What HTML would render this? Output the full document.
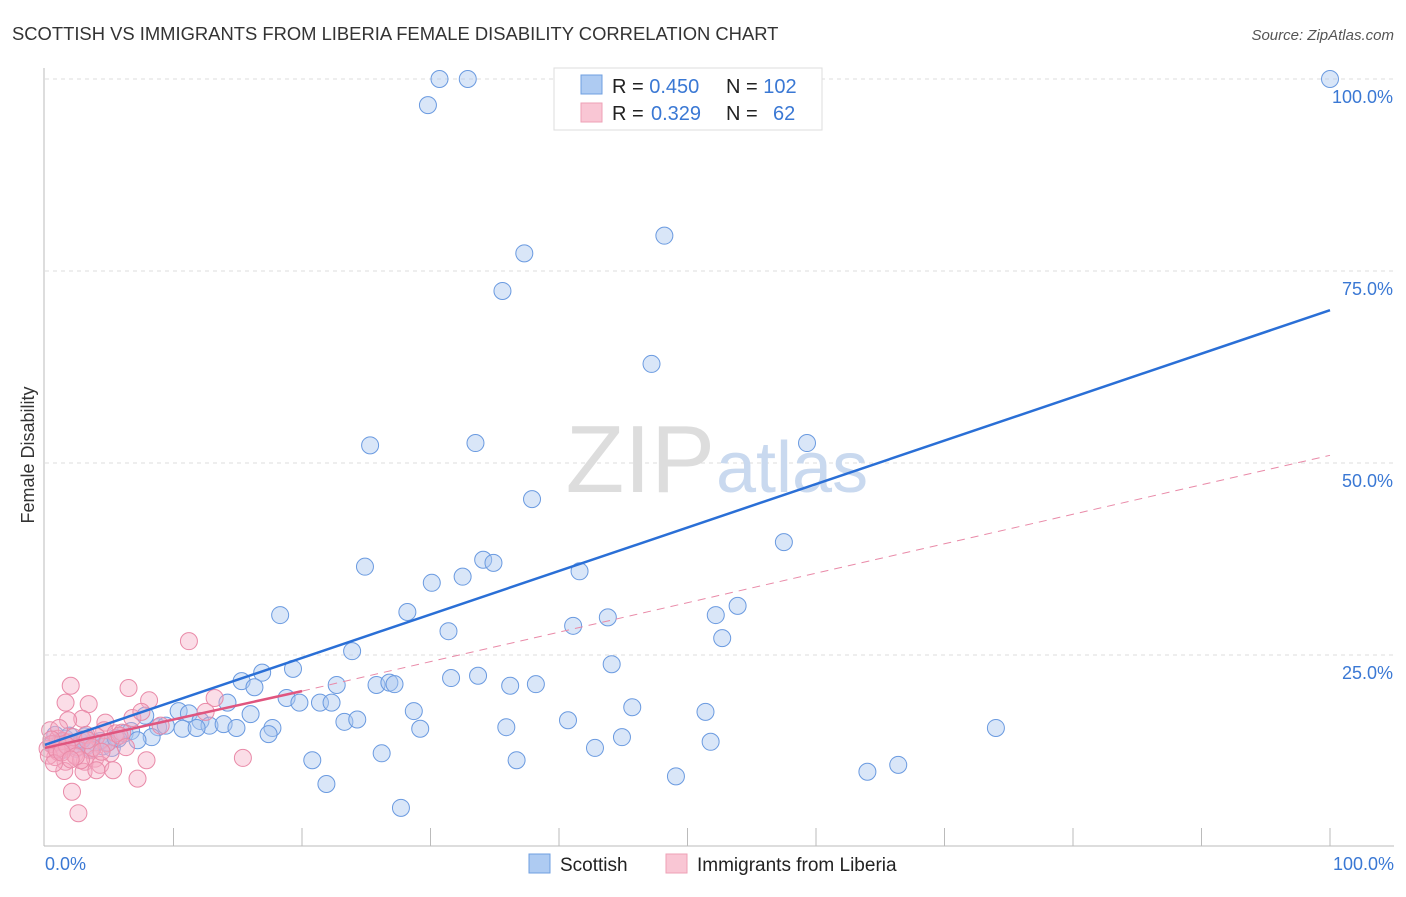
<!DOCTYPE html>
<html><head><meta charset="utf-8"><style>
body{margin:0;background:#fff;font-family:"Liberation Sans",sans-serif}
svg text{font-family:"Liberation Sans",sans-serif}
</style></head><body>
<svg id="c" width="1406" height="892">
<text x="12" y="40" font-size="18.4" fill="#333">SCOTTISH VS IMMIGRANTS FROM LIBERIA FEMALE DISABILITY CORRELATION CHART</text>
<text x="1394" y="40" font-size="15" fill="#555" font-style="italic" text-anchor="end">Source: ZipAtlas.com</text>
<text x="34" y="455" font-size="18" fill="#333" text-anchor="middle" transform="rotate(-90 34 455)">Female Disability</text>
<g id="grid"></g>
<text x="715" y="492" font-size="96" fill="#ddd" text-anchor="end" font-family="Liberation Serif">ZIP</text>
<text x="716" y="492" font-size="72" fill="#c9d9ef">atlas</text>
<g id="pts"></g>
<g id="lines"></g>
<line x1="44" y1="68" x2="44" y2="846" stroke="#bbb"/>
<line x1="44" y1="846" x2="1394" y2="846" stroke="#bbb"/>
<g id="ticks"></g>
<text x="45" y="870" font-size="18" fill="#3a78d4">0.0%</text>
<text x="1394" y="870" font-size="18" fill="#3a78d4" text-anchor="end">100.0%</text>
<g>
<rect x="554" y="68" width="268" height="62" fill="#fff" stroke="#ddd"/>
<rect x="581" y="75" width="21" height="19" fill="#aecbf2" stroke="#6f9fe0"/>
<rect x="581" y="103" width="21" height="19" fill="#f9c6d4" stroke="#eea0b6"/>
<text x="612" y="93" font-size="20" fill="#222">R = <tspan fill="#3a78d4">0.450</tspan></text>
<text x="726" y="93" font-size="20" fill="#222">N = <tspan fill="#3a78d4">102</tspan></text>
<text x="612" y="120" font-size="20" fill="#222">R = <tspan fill="#3a78d4" x="651">0.329</tspan></text>
<text x="726" y="120" font-size="20" fill="#222">N = <tspan fill="#3a78d4" x="773">62</tspan></text>
</g>
<g>
<rect x="529" y="854" width="21" height="19" fill="#aecbf2" stroke="#6f9fe0"/>
<text x="560" y="871" font-size="19" fill="#222">Scottish</text>
<rect x="666" y="854" width="21" height="19" fill="#f9c6d4" stroke="#eea0b6"/>
<text x="697" y="871" font-size="19" fill="#222">Immigrants from Liberia</text>
</g>
</svg>
<script>
const yTicks=[25,50,75,100];
const yTickLabels=["25.0%","50.0%","75.0%","100.0%"];
const xTicks=[10,20,30,40,50,60,70,80,90,100];
const scotX=[30.7,32.9,29.8,100,48.2,37.3,35.6,47.2,25.3,33.5,59.3,37.9,57.5,24.9,34.1,34.9,41.6,30.1,32.5,28.2,18.3,53.9,52.2,43.8,41.1,31.4,52.7,23.9,44.1,19.3,16.9,15.3,16.3,31.6,33.7,22.7,25.8,26.8,27.2,36.2,38.2,18.8,19.8,21.4,22.3,14.2,10.4,11.2,7.8,16.0,28.7,45.7,51.4,12.1,12.8,13.9,8.8,9.4,10.7,11.8,14.9,23.3,24.3,29.2,35.9,40.7,74.0,6.2,6.7,17.7,17.4,8.3,7.2,44.9,51.8,42.8,26.2,20.8,36.7,49.1,64.0,66.4,21.9,27.7,0.8,1.2,1.6,2.1,2.7,3.3,3.9,4.5,5.2,5.7,1.3,1.9,3.1,4.3,0.6,2.4,3.6,4.9,5.5,2.9];
const scotY=[100,100,96.6,100,79.6,77.3,72.4,62.9,52.3,52.6,52.6,45.3,39.7,36.5,37.4,37.0,35.9,34.4,35.2,30.6,30.2,31.4,30.2,29.9,28.8,28.1,27.2,25.5,23.8,23.2,22.7,21.6,20.8,22.0,22.3,21.1,21.1,21.4,21.2,21.0,21.2,19.4,18.8,18.8,18.8,18.8,17.7,17.4,17.1,17.3,17.7,18.2,17.6,16.4,15.8,16.0,15.6,15.8,15.4,15.5,15.5,16.3,16.6,15.4,15.6,16.5,15.5,14.8,15.1,15.5,14.7,14.3,13.9,14.3,13.7,12.9,12.2,11.3,11.3,9.2,9.8,10.7,8.2,5.1,14.6,13.7,14.1,13.2,13.8,13.2,13.6,13.1,12.9,14.1,12.6,14.5,14.4,13.8,13.4,12.8,12.7,13.6,14.2,14.0];
const libX=[11.2,2.0,6.5,3.4,1.6,8.1,13.2,2.9,1.8,4.7,6.8,7.5,4.6,0.4,4.0,5.5,1.2,2.3,3.5,0.8,1.6,3.1,3.9,5.1,0.2,1.0,1.9,4.3,1.5,3.0,4.0,5.3,7.9,15.4,7.2,2.1,2.6,0.5,1.0,1.4,2.5,3.2,4.8,6.0,0.3,0.9,2.2,2.8,3.7,1.1,0.7,1.7,2.4,3.3,4.4,5.8,0.5,1.3,2.0,6.3,9.0,12.5];
const libY=[26.8,21.0,20.7,18.6,18.8,19.1,19.4,16.7,16.5,16.2,16.8,17.6,15.2,15.2,14.4,14.8,12.9,12.0,12.6,11.7,11.1,11.1,11.5,12.2,12.8,14.1,13.6,10.7,9.9,9.8,10.0,10.0,11.3,11.6,8.9,7.2,4.4,13.4,12.4,13.8,13.0,14.6,13.5,14.9,11.9,12.7,14.3,11.3,12.9,15.5,10.9,13.2,11.8,13.9,12.4,14.5,14.0,12.3,11.4,13.0,15.8,17.6];
const scotLine=[0,13.3,100,69.9];
const libLine=[0,12.9,20,20.3,100,51];
const X=v=>45+v*12.85, Y=v=>847-v*7.68;
const NS="http://www.w3.org/2000/svg";
function mk(t,a,p){const e=document.createElementNS(NS,t);for(const k in a)e.setAttribute(k,a[k]);p.appendChild(e);return e;}
const grid=document.getElementById('grid');
yTicks.forEach((t,i)=>{
 const l=mk('line',{x1:45,x2:1394,y1:Y(t),y2:Y(t),stroke:'#ddd','stroke-dasharray':'4,4'},grid);
 
 
 const tx=mk('text',{x:1393,y:Y(t)+24,'font-size':18,fill:'#3a78d4','text-anchor':'end'},grid);
 tx.textContent=yTickLabels[i];
 
 
});
const ticks=document.getElementById('ticks');
xTicks.forEach(t=>{
 const l=mk('line',{x1:X(t),x2:X(t),y1:828,y2:846,stroke:'#bbb'},ticks);
 
 
});
const pts=document.getElementById('pts');
scotX.forEach((x,i)=>{
 const c=mk('circle',{cx:X(x),cy:Y(scotY[i]),r:8.5,fill:'rgba(170,200,240,0.45)',stroke:'#6a9ae0','stroke-width':1},pts);
 
 
});
libX.forEach((x,i)=>{
 const c=mk('circle',{cx:X(x),cy:Y(libY[i]),r:8.5,fill:'rgba(245,170,195,0.4)',stroke:'#e98aa8','stroke-width':1},pts);
 
 
});
const lg=document.getElementById('lines');
let e=mk('line',{x1:X(libLine[2]),y1:Y(libLine[3]),x2:X(libLine[4]),y2:Y(libLine[5]),stroke:'#e98aa8','stroke-width':1,'stroke-dasharray':'8,6'},lg);


e=mk('line',{x1:X(scotLine[0]),y1:Y(scotLine[1]),x2:X(scotLine[2]),y2:Y(scotLine[3]),stroke:'#2a6fd6','stroke-width':2.5},lg);


e=mk('line',{x1:X(libLine[0]),y1:Y(libLine[1]),x2:X(libLine[2]),y2:Y(libLine[3]),stroke:'#e0557f','stroke-width':2.5},lg);


</script>
</body></html>
